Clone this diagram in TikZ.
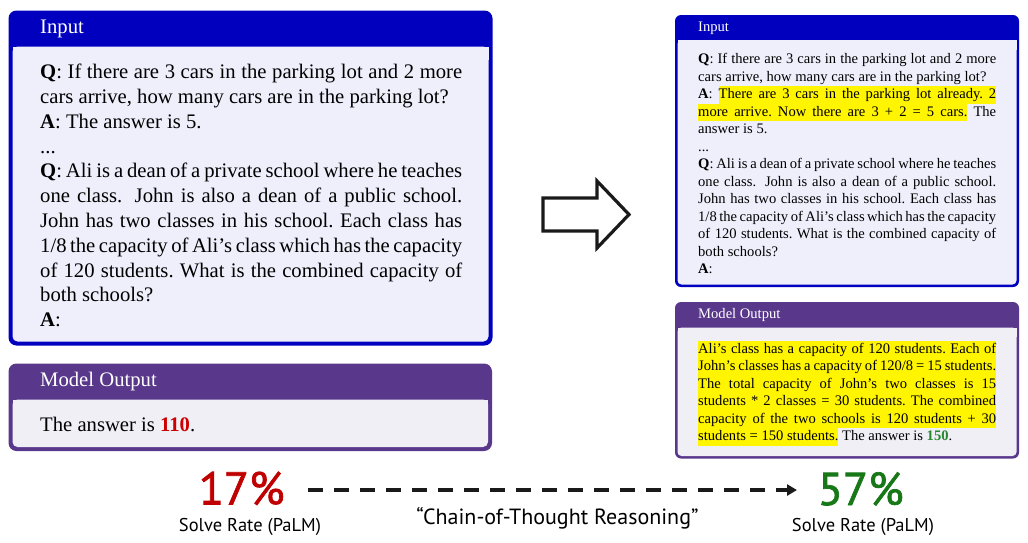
\documentclass[tikz,border=0pt]{standalone}
\usepackage{fontspec}
\setmainfont{Liberation Serif}
\newfontfamily\uifont{PT Sans}
\newfontfamily\pctfont[FakeBold=1.6]{PT Sans}
\usetikzlibrary{arrows.meta}
\definecolor{inframe}{RGB}{0,0,190}
\definecolor{inback}{RGB}{239,239,252}
\definecolor{outframe}{RGB}{89,56,140}
\definecolor{outback}{RGB}{240,239,246}
\definecolor{hlyellow}{RGB}{255,245,0}
\definecolor{ansred}{RGB}{204,0,0}
\definecolor{ansgreen}{RGB}{40,135,50}
\definecolor{pctred}{RGB}{192,0,0}
\definecolor{pctgreen}{RGB}{24,120,24}
\definecolor{inkblack}{RGB}{26,26,26}
\makeatletter
\newcommand\HLword[1]{{\fboxsep=0pt\colorbox{hlyellow}{\strut #1}}}
\newcommand\HLspace{{\color{hlyellow}\leaders\hrule height\ht\strutbox depth\dp\strutbox
  \hskip\fontdimen2\font plus\fontdimen3\font minus\fontdimen4\font}}
\newcommand\HL[1]{\HL@a#1 \@nil}
\def\HL@a#1 #2\@nil{%
  \HLword{#1}%
  \if\relax\detokenize{#2}\relax
  \else\HLspace\HL@b{#2}\fi}
\def\HL@b#1{\HL@a#1\@nil}
\makeatother
\begin{document}
\begin{tikzpicture}[x=1pt,y=-1pt,
  bigfont/.style={font=\fontsize{20.67pt}{24.8pt}\selectfont},
  smallfont/.style={font=\fontsize{14.58pt}{17.5pt}\selectfont},
  hdrtext/.style={anchor=base west, inner sep=0pt, text=white},
  bodytext/.style={anchor=base west, inner sep=0pt, align=justify},
  pct/.style={anchor=base, inner sep=0pt, font=\pctfont\fontsize{46pt}{50pt}\selectfont},
  rate/.style={anchor=base, inner sep=0pt, font=\uifont\fontsize{18.5pt}{22pt}\selectfont},
  dasharrow/.style={line width=3.5pt, inkblack, dash pattern=on 15pt off 11pt, -{Triangle[length=10pt,width=11pt]}},
  hollowarrow/.style={line width=3.2pt, inkblack, miter limit=10}
]
\useasboundingbox (0,0) rectangle (1028,542);

% ---- left input box
\fill[inframe, rounded corners=8pt] (8.5,10.5) rectangle (492.5,345.5);
\fill[inback, rounded corners=5pt] (12.5,46.5) rectangle (488.5,341.5);
\fill[inback] (12.5,46.5) rectangle (488.5,60);
% ---- left output box
\fill[outframe, rounded corners=8pt] (8.5,363.5) rectangle (492,451);
\fill[outback, rounded corners=5pt] (12.5,399.5) rectangle (488,447);
\fill[outback] (12.5,399.5) rectangle (488,410);
% ---- right input box
\fill[inframe, rounded corners=6pt] (675,15) rectangle (1019,287);
\fill[inback, rounded corners=4pt] (677.5,40) rectangle (1016.5,284.5);
\fill[inback] (677.5,40) rectangle (1016.5,50);
% ---- right output box
\fill[outframe, rounded corners=6pt] (675,302) rectangle (1019,458.5);
\fill[outback, rounded corners=4pt] (677.5,327.5) rectangle (1016.5,456);
\fill[outback] (677.5,327.5) rectangle (1016.5,337);

% headers
\node[hdrtext, bigfont] (hinL) at (40,33.3) {Input};
\node[hdrtext, bigfont] (houtL) at (40,386) {Model Output};
\node[hdrtext, smallfont] (hinR) at (698,31.7) {Input};
\node[hdrtext, smallfont] (houtR) at (698,318.3) {Model Output};

% left input text
\node[bodytext, bigfont, text width=422pt] (qL) at (40,78.7) {%
\textbf{Q}: If there are 3 cars in the parking lot and 2 more\linebreak
cars arrive, how many cars are in the parking lot?\\
\textbf{A}: The answer is 5.\\
...\\
\textbf{Q}: Ali is a dean of a private school where he teaches\linebreak
one class.  John is also a dean of a public school.\linebreak
John has two classes in his school.\ Each class has\linebreak
1/8 the capacity of Ali's class which has the capacity\linebreak
of 120 students.\ What is the combined capacity of\linebreak
both schools?\\
\textbf{A}:};

% left output text
\node[bodytext, bigfont, text width=422pt] (aL) at (40,431) {The answer is \textbf{\color{ansred}110}.};

% right input text
\node[bodytext, smallfont, text width=298pt] (qR) at (698,63.7) {%
\textbf{Q}: If there are 3 cars in the parking lot and 2 more\linebreak
cars arrive, how many cars are in the parking lot?\\
\textbf{A}: \HL{There are 3 cars in the parking lot already. 2}\linebreak
\HL{more arrive. Now there are 3 + 2 = 5 cars.} The\linebreak
answer is 5.\\
...\\
\textbf{Q}: Ali is a dean of a private school where he teaches\linebreak
one class.  John is also a dean of a public school.\linebreak
John has two classes in his school.\ Each class has\linebreak
1/8 the capacity of Ali's class which has the capacity\linebreak
of 120 students.\ What is the combined capacity of\linebreak
both schools?\\
\textbf{A}:};

% right output text
\node[bodytext, smallfont, text width=298pt] (aR) at (698,353) {%
\HL{Ali's class has a capacity of 120 students. Each of}\linebreak
\HL{John's classes has a capacity of 120/8 = 15 students.}\linebreak
\HL{The total capacity of John's two classes is 15}\linebreak
\HL{students * 2 classes = 30 students. The combined}\linebreak
\HL{capacity of the two schools is 120 students + 30}\linebreak
\HL{students = 150 students.} The answer is \textbf{\color{ansgreen}150}.};

% big hollow arrow
\draw[hollowarrow] (543,198) -- (597,198) -- (597,181) -- (629,214.5) -- (597,248) -- (597,231) -- (543,231) -- cycle;

% bottom
\node[pct, text=pctred] (p17) at (241.7,504.5) {17\%};
\node[pct, text=pctgreen] (p57) at (860.8,505) {57\%};
\node[rate] (r17) at (250,531.7) {Solve Rate (PaLM)};
\node[rate] (r57) at (863,531.7) {Solve Rate (PaLM)};
\node[anchor=base, inner sep=0pt, font=\uifont\fontsize{22pt}{26pt}\selectfont] (cot) at (557.5,524) {“Chain-of-Thought Reasoning”};
\coordinate (ds) at (308,490);
\coordinate (de) at (797,490);
\draw[dasharrow] (ds) -- (de);
\end{tikzpicture}
\end{document}
